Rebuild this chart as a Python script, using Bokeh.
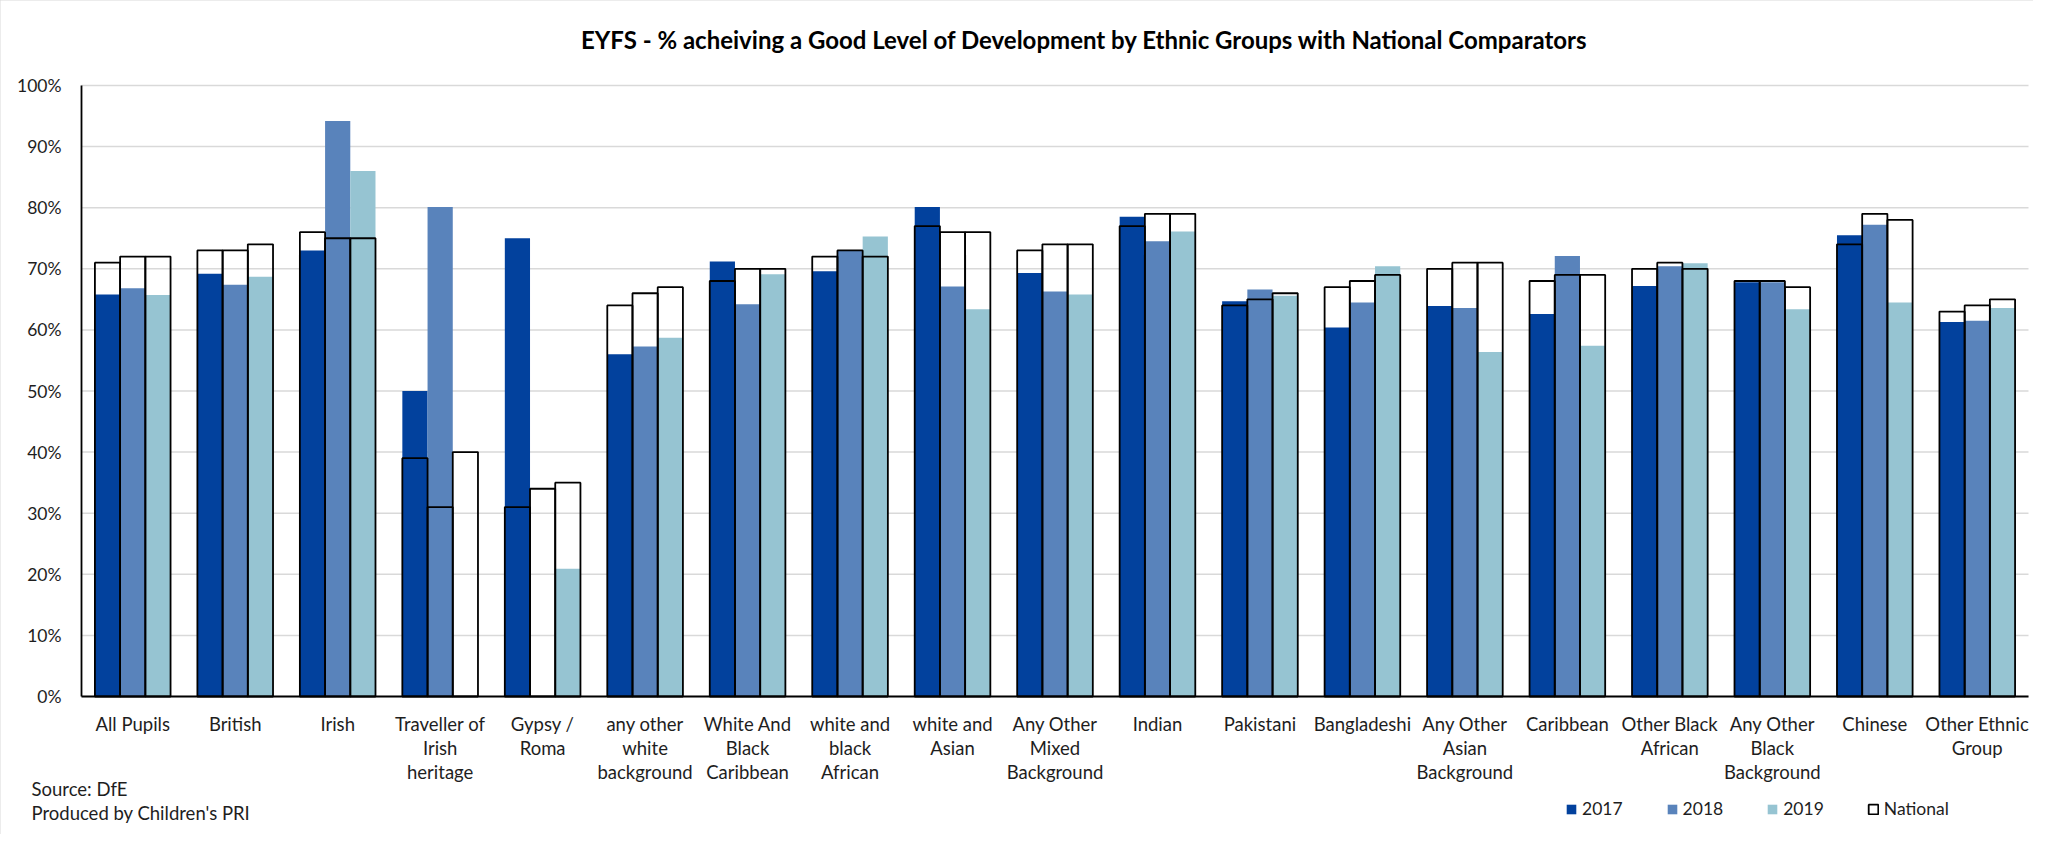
import math
from bokeh.plotting import figure
from bokeh.models import (Range1d, ColumnDataSource, LabelSet, Label, Legend, LegendItem)
from bokeh.transform import dodge
from bokeh.core.properties import value
from bokeh.embed import file_html
from bokeh.resources import INLINE

nan = float("nan")

categories = ["All Pupils", "British", "Irish", "Traveller of Irish heritage", "Gypsy / Roma",
              "any other white background", "White And Black Caribbean", "white and black African",
              "white and Asian", "Any Other Mixed Background", "Indian", "Pakistani", "Bangladeshi",
              "Any Other Asian Background", "Caribbean", "Other Black African",
              "Any Other Black Background", "Chinese", "Other Ethnic Group"]
label_lines = [["All Pupils"], ["British"], ["Irish"], ["Traveller of", "Irish", "heritage"],
               ["Gypsy /", "Roma"], ["any other", "white", "background"],
               ["White And", "Black", "Caribbean"], ["white and", "black", "African"],
               ["white and", "Asian"], ["Any Other", "Mixed", "Background"], ["Indian"],
               ["Pakistani"], ["Bangladeshi"], ["Any Other", "Asian", "Background"], ["Caribbean"],
               ["Other Black", "African"], ["Any Other", "Black", "Background"], ["Chinese"],
               ["Other Ethnic", "Group"]]

y2017 = [65.8, 69.2, 73.0, 50.0, 75.0, 56.0, 71.2, 69.6, 80.1, 69.3, 78.5, 64.7, 60.4, 63.9, 62.6, 67.2, 67.8, 75.5, 61.3]
y2018 = [66.8, 67.4, 94.2, 80.1, nan, 57.3, 64.2, 73.0, 67.1, 66.3, 74.5, 66.6, 64.5, 63.6, 72.1, 70.4, 67.8, 77.2, 61.5]
y2019 = [65.7, 68.7, 86.0, nan, 20.9, 58.7, 69.1, 75.3, 63.4, 65.8, 76.1, 65.6, 70.4, 56.4, 57.4, 70.9, 63.4, 64.5, 63.6]
nat2017 = [71, 73, 76, 39, 31, 64, 68, 72, 77, 73, 77, 64, 67, 70, 68, 70, 68, 74, 63]
nat2018 = [72, 73, 75, 31, 34, 66, 70, 73, 76, 74, 79, 65, 68, 71, 69, 71, 68, 79, 64]
nat2019 = [72, 74, 75, 40, 35, 67, 70, 72, 76, 74, 79, 66, 69, 71, 69, 70, 67, 78, 65]
y_ticks = list(range(0, 101, 10))
y_tick_labels = ["%d%%" % t for t in y_ticks]
series_names = ["2017", "2018", "2019", "National"]

# ---------- layout (figure pixel coordinates, top-left origin) ----------
W, H = 2033, 834
L, R, T, B = 81, 2028, 85, 696          # plot area
ncat = len(categories)
ppx = (R - L) / ncat
ppy = (B - T) / 100.0


def dx(px):
    return (px - L) / ppx


def dy(py):
    return (B - py) / ppy


FONT = "Lato"
TXT = "#1e1e1e"
C17, C18, C19 = "#02419D", "#5983BB", "#96C4D2"

p = figure(width=W, height=H, x_range=Range1d(dx(0), dx(W)), y_range=Range1d(dy(H), dy(0)),
           output_backend="svg", toolbar_location=None,
           min_border_left=0, min_border_right=0, min_border_top=0, min_border_bottom=0)
p.axis.visible = False
p.grid.visible = False
p.outline_line_color = None
p.background_fill_color = "white"
p.border_fill_color = "white"
p.styles = {"outline": "1px solid #D9D9D9", "outline-offset": "-1px"}

xpos = [i + 0.5 for i in range(ncat)]
src = ColumnDataSource(dict(x=xpos, cat=categories, y2017=y2017, y2018=y2018, y2019=y2019,
                            n2017=nat2017, n2018=nat2018, n2019=nat2019))

# gridlines (from the tick list)
gsrc = ColumnDataSource(dict(y=y_ticks, lab=y_tick_labels))
p.segment(x0=0, x1=ncat, y0="y", y1="y", source=gsrc, line_color="#D9D9D9", line_width=1.5)

bw = 0.246
r17 = p.vbar(x=dodge("x", -bw), top="y2017", width=bw, source=src, fill_color=C17, line_color=None)
r18 = p.vbar(x=dodge("x", 0), top="y2018", width=bw, source=src, fill_color=C18, line_color=None)
r19 = p.vbar(x=dodge("x", bw), top="y2019", width=bw, source=src, fill_color=C19, line_color=None)
rn = None
for off, col in [(-bw, "n2017"), (0, "n2018"), (bw, "n2019")]:
    rn = p.vbar(x=dodge("x", off), top=col, width=bw, source=src,
                fill_color="white", fill_alpha=0, line_color="black", line_width=1.8)

# axis lines
p.segment(x0=[0, 0], x1=[0, ncat], y0=[0, 0], y1=[y_ticks[-1], 0], line_color="black", line_width=1.8)

# y tick labels
p.add_layout(LabelSet(x=dx(L - 20), y="y", text="lab", source=gsrc, text_align="right",
                      text_baseline="middle", text_font=value(FONT), text_font_size="17.5px",
                      text_color=TXT))

# category labels
line_y = [dy(723), dy(747), dy(771)]
lx, ly, lt = [], [], []
for xi, lines in zip(xpos, label_lines):
    for k, t in enumerate(lines):
        lx.append(xi)
        ly.append(line_y[k])
        lt.append(t)
p.add_layout(LabelSet(x="x", y="y", text="t", source=ColumnDataSource(dict(x=lx, y=ly, t=lt)),
                      text_align="center", text_baseline="middle", text_font=value(FONT),
                      text_font_size="18.5px", text_color=TXT))

# title
p.add_layout(Label(x=dx(1084), y=dy(39), text="EYFS - % acheiving a Good Level of Development by Ethnic Groups with National Comparators",
                   text_align="center", text_baseline="middle", text_font=FONT, text_font_style="bold",
                   text_font_size="24px", text_color="black"))
# source notes
p.add_layout(Label(x=dx(31), y=dy(788), text="Source: DfE", text_align="left", text_baseline="middle",
                   text_font=FONT, text_font_size="18.5px", text_color=TXT))
p.add_layout(Label(x=dx(31), y=dy(812), text="Produced by Children's PRI", text_align="left",
                   text_baseline="middle", text_font=FONT, text_font_size="18.5px", text_color=TXT))

# legend
legend = Legend(items=[LegendItem(label=series_names[0], renderers=[r17]),
                       LegendItem(label=series_names[1], renderers=[r18]),
                       LegendItem(label=series_names[2], renderers=[r19]),
                       LegendItem(label=series_names[3], renderers=[rn])],
                orientation="horizontal", location=(1565, H - 819),
                glyph_width=12, glyph_height=12, label_standoff=5, spacing=43, padding=0, margin=0,
                label_height=20, border_line_color=None, background_fill_alpha=0,
                label_text_font=FONT, label_text_font_size="17.5px", label_text_color=TXT)
p.add_layout(legend, "center")

open("out.html", "w").write(file_html(p, INLINE))
